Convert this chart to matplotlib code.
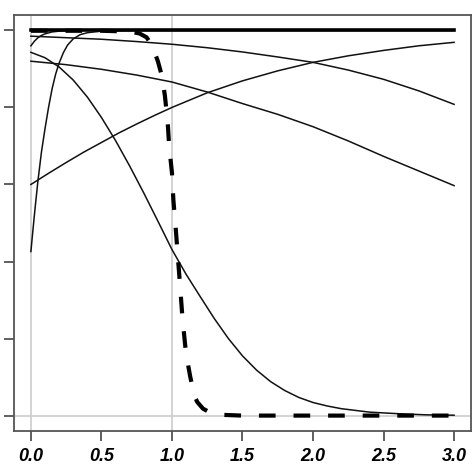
import matplotlib
matplotlib.use("Agg")
import matplotlib.pyplot as plt
import numpy as np

# curve values
x_a = [0, 0.1, 0.2, 0.3, 0.4, 0.5, 0.6, 0.7, 0.8, 0.9, 1.0, 1.1, 1.2, 1.3, 1.4, 1.5,
       1.6, 1.7, 1.8, 1.9, 2.0, 2.1, 2.2, 2.4, 2.6, 2.8, 3.0]
y_a = [0.943, 0.929, 0.905, 0.871, 0.827, 0.774, 0.714, 0.648, 0.578, 0.505, 0.431, 0.367,
       0.309, 0.252, 0.200, 0.155, 0.118, 0.088, 0.065, 0.047, 0.034, 0.025, 0.018, 0.009,
       0.005, 0.002, 0.001]

x_b = [0, 0.25, 0.5, 0.75, 1.0, 1.25, 1.5, 1.75, 2.0, 2.25, 2.5, 2.75, 3.0]
y_b = [0.92, 0.911, 0.899, 0.884, 0.866, 0.84, 0.81, 0.782, 0.75, 0.713, 0.673, 0.635, 0.597]

x_c = [0, 0.01, 0.02, 0.03, 0.04, 0.05, 0.075, 0.10, 0.125, 0.15, 0.175, 0.20, 0.23, 0.26,
       0.30, 0.35, 0.4, 0.5, 0.6, 0.8, 3.0]
y_c = [0.426, 0.465, 0.503, 0.54, 0.575, 0.61, 0.685, 0.745, 0.80, 0.848, 0.886, 0.915,
       0.942, 0.962, 0.978, 0.989, 0.994, 0.998, 0.999, 1.0, 1.0]

x_d = [0, 0.125, 0.25, 0.375, 0.5, 0.625, 0.75, 0.875, 1.0, 1.25, 1.5, 1.75, 2.0, 2.25,
       2.5, 2.75, 3.0]
y_d = [0.60, 0.629, 0.657, 0.684, 0.709, 0.734, 0.757, 0.779, 0.80, 0.838, 0.869, 0.895,
       0.917, 0.934, 0.948, 0.96, 0.969]

x_e = [0, 0.5, 0.75, 1.0, 1.25, 1.5, 1.75, 2.0, 2.25, 2.5, 2.75, 3.0]
y_e = [0.985, 0.977, 0.971, 0.964, 0.955, 0.944, 0.931, 0.917, 0.897, 0.873, 0.843, 0.808]

x_f = [0, 0.025, 0.05, 0.075, 0.1, 0.15, 0.2, 0.3, 3.0]
y_f = [0.96, 0.972, 0.981, 0.987, 0.991, 0.996, 0.998, 1.0, 1.0]

x_top = [0, 3.0]
y_top = [1.0, 1.0]

x_dash = [0.0, 0.5, 0.7, 0.77, 0.82, 0.86, 0.90, 0.93, 0.95, 0.97, 0.98, 1.00, 1.01,
          1.03, 1.04, 1.055, 1.075, 1.10, 1.13, 1.16, 1.18, 1.22, 1.27, 1.35, 1.5, 3.0]
y_dash = [0.999, 0.999, 0.997, 0.992, 0.982, 0.96, 0.92, 0.88, 0.83, 0.76, 0.70, 0.63, 0.56,
          0.47, 0.42, 0.35, 0.25, 0.16, 0.10, 0.05, 0.035, 0.018, 0.008, 0.002, 0.0, 0.0]

x_ticks = [0.0, 0.5, 1.0, 1.5, 2.0, 2.5, 3.0]
y_ticks = [0.0, 0.2, 0.4, 0.6, 0.8, 1.0]

fig = plt.figure(figsize=(4.74, 4.74), dpi=100)
ax = fig.add_axes([0.0295, 0.0907, 0.9642, 0.8777])

# reference lines
ax.axhline(0, color="#cccccc", lw=1.2, zorder=1)
ax.axvline(0, color="#cccccc", lw=1.2, zorder=1)
ax.axvline(1, color="#cccccc", lw=1.2, zorder=1)

for xs, ys in [(x_a, y_a), (x_b, y_b), (x_c, y_c), (x_d, y_d), (x_e, y_e), (x_f, y_f)]:
    ax.plot(xs, ys, color="#111111", lw=1.1, zorder=2)
ax.plot(x_top, y_top, color="black", lw=2.6, zorder=3)
ax.plot(x_dash, y_dash, color="black", lw=3, dashes=(4, 4.3), zorder=4)

ax.set_xlim(-0.12, 3.12)
ax.set_ylim(-0.04, 1.04)
ax.set_xticks(x_ticks)
ax.set_xticklabels([f"{v:.1f}" for v in x_ticks], fontfamily="Liberation Sans",
                   fontweight="bold", fontstyle="italic", fontsize=13)
ax.set_yticks(y_ticks)
ax.set_yticklabels([])
ax.tick_params(length=7.5, width=1.2, color="#444444", pad=5)
for s in ax.spines.values():
    s.set_color("#555555")
    s.set_linewidth(1.3)

plt.savefig("out.png", dpi=100)
